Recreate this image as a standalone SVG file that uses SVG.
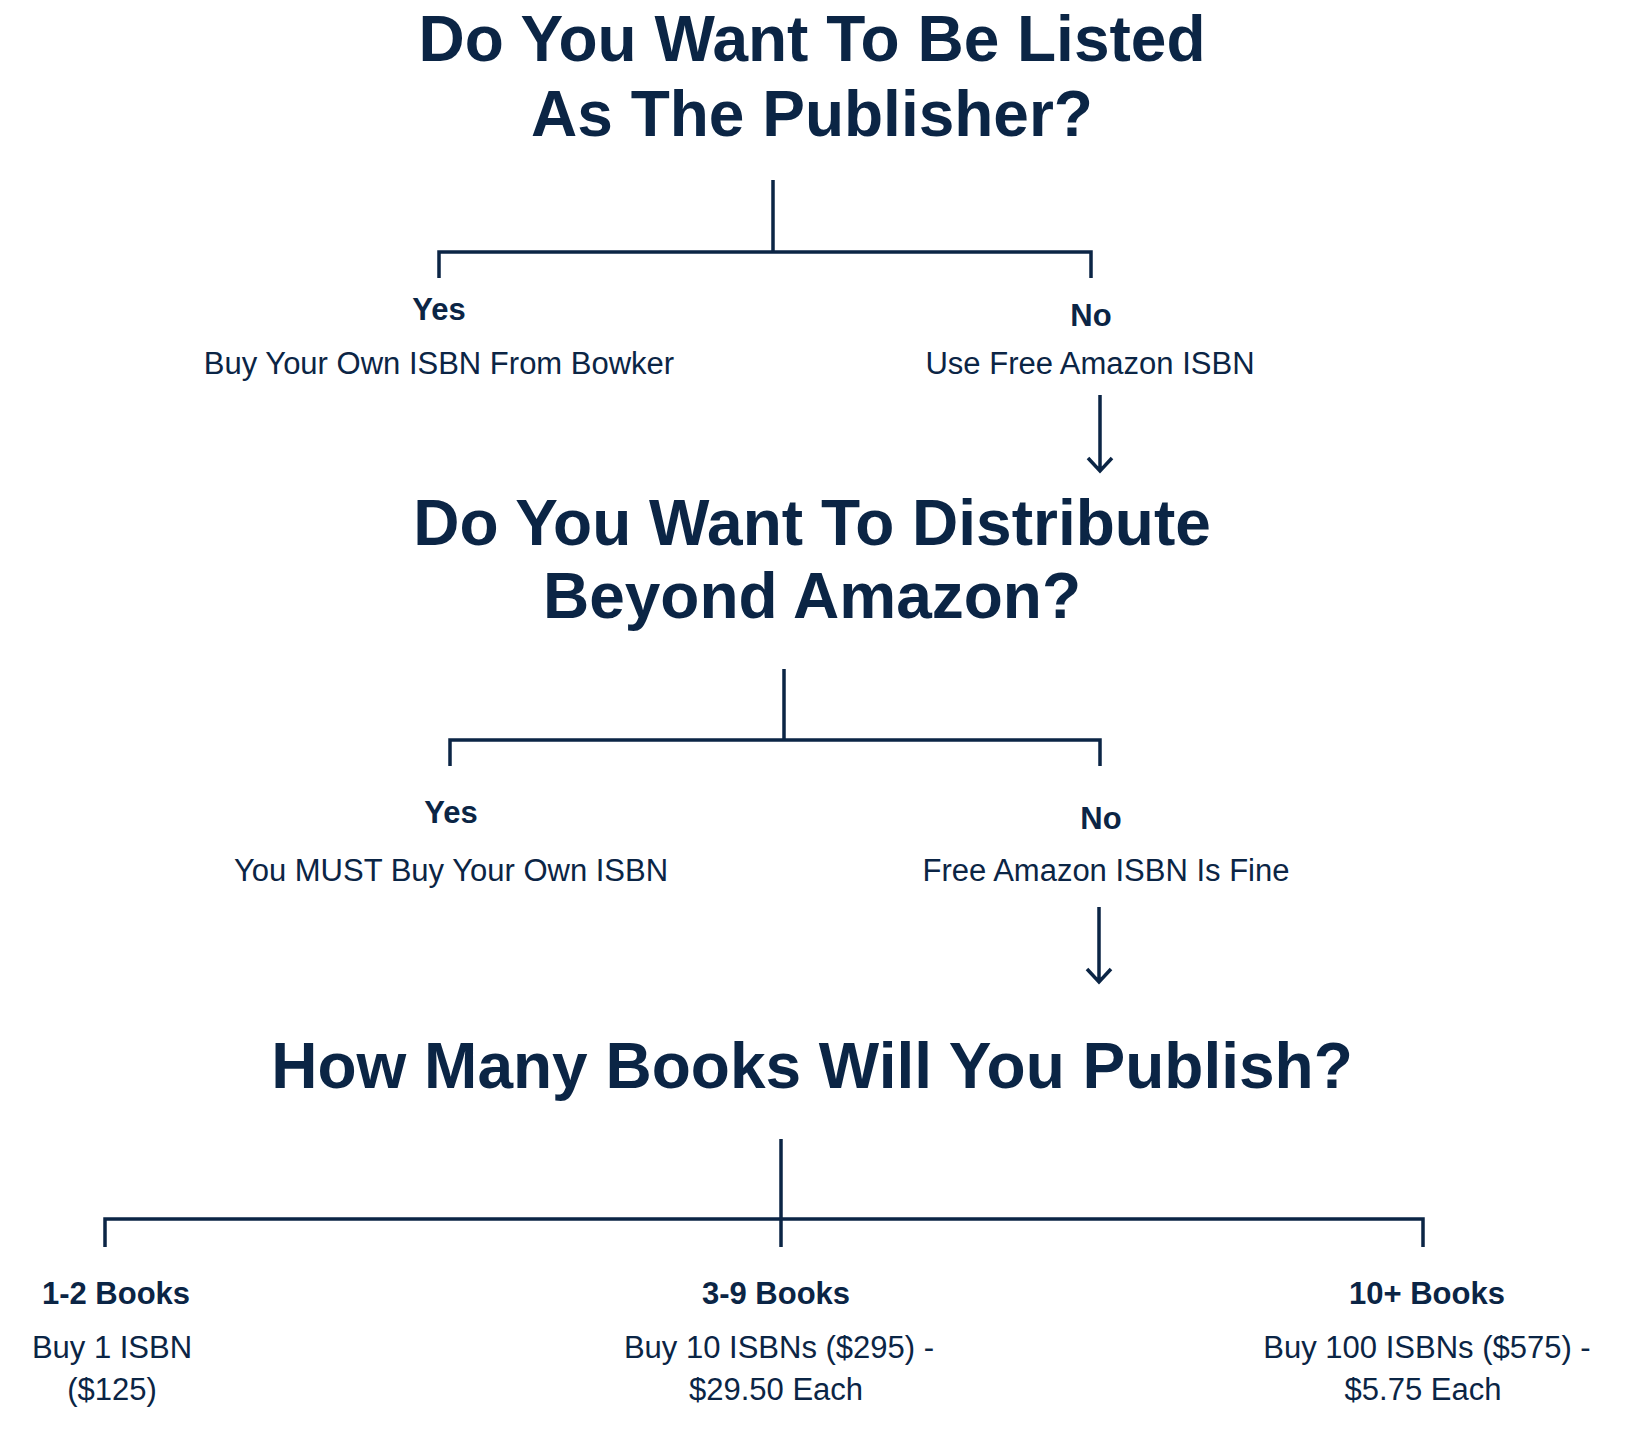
<svg xmlns="http://www.w3.org/2000/svg" width="1635" height="1452" viewBox="0 0 1635 1452">
<style>
text{font-family:"Liberation Sans",Arial,sans-serif;fill:#0b2545;text-anchor:middle}
.t{font-size:64px;font-weight:bold}
.l{font-size:31px;font-weight:bold}
.s{font-size:31px}
.c line,.c path{stroke:#0b2545;stroke-width:3.5;fill:none}
</style>
<rect width="1635" height="1452" fill="#fff"/>
<g class="c" id="connectors">
<path d="M773 180V252M439 278V252H1091V278"/>
<path d="M1100 395V470M1088 458L1100 471L1112 458"/>
<path d="M784 669V740M450 766V740H1100V766"/>
<path d="M1099 907V981M1087 969L1099 982L1111 969"/>
<path d="M781 1139V1247M105 1247V1219H1423V1247"/>
</g>
<g id="q1"><text class="t" x="812" y="61">Do You Want To Be Listed</text><text class="t" x="812" y="136">As The Publisher?</text></g>
<g id="yes1"><text class="l" x="439" y="320">Yes</text><text class="s" x="439" y="374">Buy Your Own ISBN From Bowker</text></g>
<g id="no1"><text class="l" x="1091" y="326">No</text><text class="s" x="1090" y="374">Use Free Amazon ISBN</text></g>
<g id="q2"><text class="t" x="812" y="545">Do You Want To Distribute</text><text class="t" x="812" y="618">Beyond Amazon?</text></g>
<g id="yes2"><text class="l" x="451" y="823">Yes</text><text class="s" x="451" y="881">You MUST Buy Your Own ISBN</text></g>
<g id="no2"><text class="l" x="1101" y="829">No</text><text class="s" x="1106" y="881">Free Amazon ISBN Is Fine</text></g>
<g id="q3"><text class="t" x="812" y="1088">How Many Books Will You Publish?</text></g>
<g id="b1"><text class="l" x="116" y="1304">1-2 Books</text><text class="s" x="112" y="1358">Buy 1 ISBN</text><text class="s" x="112" y="1400">($125)</text></g>
<g id="b2"><text class="l" x="776" y="1304">3-9 Books</text><text class="s" x="779" y="1358">Buy 10 ISBNs ($295) -</text><text class="s" x="776" y="1400">$29.50 Each</text></g>
<g id="b3"><text class="l" x="1427" y="1304">10+ Books</text><text class="s" x="1427" y="1358">Buy 100 ISBNs ($575) -</text><text class="s" x="1423" y="1400">$5.75 Each</text></g>
</svg>
